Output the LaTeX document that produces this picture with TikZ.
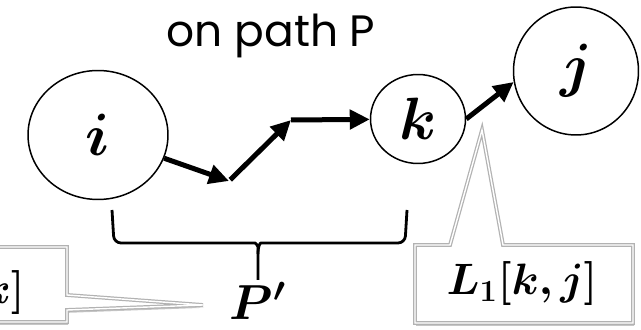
\RequirePackage{fix-cm}
\documentclass[tikz,border=0pt]{standalone}
\usepackage{fontspec}
\setsansfont{Poppins}
\usepackage{amsmath,bm}
\usetikzlibrary{arrows.meta,shapes.geometric,shadows,positioning}
\tikzset{>=Stealth,every node/.style={font=\fontsize{25}{30}\selectfont},
vertex/.style={ellipse,draw,line width=.85pt,inner sep=0pt,font=\fontsize{34}{40}\selectfont},
hop/.style={line width=1mm,-{Triangle[length=4mm,width=3.8mm]}},
brace/.style={line width=1.6pt},
callout/.style={fill=white,draw=gray!60,line width=.7pt,double=white,double distance=.8pt,drop shadow={shadow xshift=.6pt,shadow yshift=-1.6pt,opacity=.45}}}

\begin{document}
\begin{tikzpicture}[x=.02cm,y=-.02cm]
\useasboundingbox (0,0) rectangle (641,330);\clip (0,0) rectangle (641,330);
\node[font=\sffamily\fontsize{25}{30}\selectfont,anchor=base,inner sep=0pt] (title) at (271,47){on path P};
\node[vertex,minimum width=2.8cm,minimum height=2.58cm] (i) at (98,135){$\bm{i}$};
\node[vertex,minimum width=1.9cm,minimum height=1.78cm] (k) at (418,119){$\bm{k}$};
\node[vertex,minimum width=2.5cm,minimum height=2.56cm] (j) at (576,71){$\bm{j}$};
\coordinate (a) at (229,181);\coordinate (b) at (291,120);
\draw[hop] (i)--(a);\draw[hop,shorten <=1pt] (a)--(b);\draw[hop] (b)--(k);\draw[hop] (k.east)--(j.190);
% brace under P'
\draw[brace,rounded corners=.14cm] (112,210)--(114,243)--(248,243) .. controls (256,243) and (258,246) .. (258,254)--(258,280);
\draw[brace,rounded corners=.14cm] (258,254) .. controls (258,246) and (260,243) .. (268,243)--(405,243)--(407,210);
\coordinate (tip) at (258,280);
\node[below=1pt of tip,inner sep=0pt,font=\fontsize{28}{33}\selectfont] (pp) {$\bm{P'}$};
% callouts
\path[callout] (-10,247)--(67,247)--(67,295)--(203,305)--(67,310)--(67,322)--(-10,322)--cycle;
\node (lk) at (4,293){$\bm{k]}$};
\path[callout] (415,245)--(450,245)--(482,130)--(503,245)--(633,245)--(633,323)--(415,323)--cycle;
\node (lkj) at (522,284){$\bm{L_1[k,j]}$};
\end{tikzpicture}
\end{document}
